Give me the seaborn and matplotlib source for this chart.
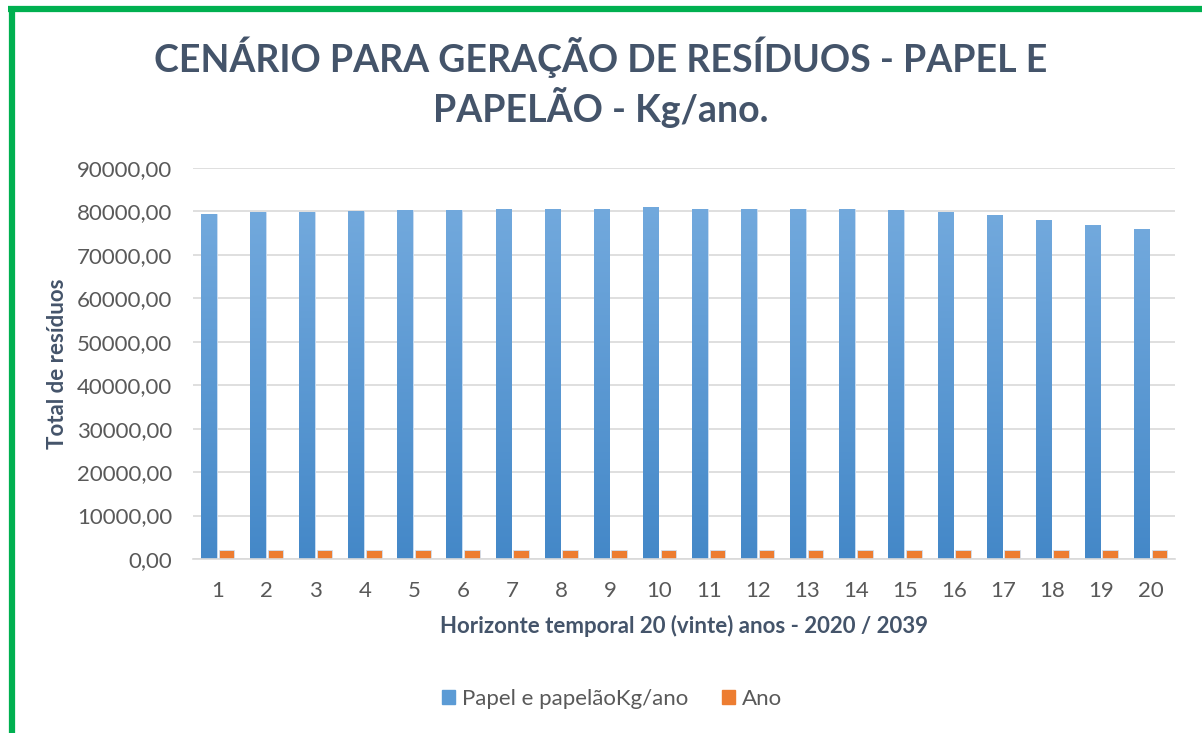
import numpy as np
import pandas as pd
import matplotlib
matplotlib.use('Agg')
import matplotlib.pyplot as plt
from matplotlib.lines import Line2D
from matplotlib.colors import LinearSegmentedColormap
import seaborn as sns

# Dados
anos_idx = list(range(1, 21))
papel = [79420, 79810, 79800, 80110, 80340, 80340, 80640, 80640, 80640, 81030,
         80640, 80640, 80640, 80640, 80340, 79810, 79190, 77970, 76820, 75900]
ano = list(range(2020, 2040))
series = ['Papel e papelãoKg/ano', 'Ano']
cores = ['#5B9BD5', '#ED7D31']

df = pd.DataFrame({
    'idx': anos_idx * 2,
    'valor': papel + ano,
    'serie': [series[0]] * 20 + [series[1]] * 20,
})

sns.set_theme(style='white')
plt.rcParams['font.family'] = ['Lato', 'DejaVu Sans']

fig = plt.figure(figsize=(12.02, 7.33), dpi=100)
ax = fig.add_axes([0.1606, 0.2374, 0.817, 0.5334])

sns.barplot(data=df, x='idx', y='valor', hue='serie', palette=cores,
            width=0.72, gap=0.12, ax=ax, legend=False, saturation=1,
            edgecolor='#cfe0f3', linewidth=0.6)

# gradiente nas barras azuis
grad_cmap = LinearSegmentedColormap.from_list('azul', ['#4488c8', '#72a9dd'])
grad = np.linspace(0, 1, 256).reshape(-1, 1)
for bar in ax.containers[0]:
    x, w, h = bar.get_x(), bar.get_width(), bar.get_height()
    im = ax.imshow(grad, extent=[x, x + w, 0, h], origin='lower', aspect='auto',
                   cmap=grad_cmap, zorder=bar.get_zorder() + 0.1)
    im.set_clip_path(bar)

ax.set_xlim(-0.5, 19.5)
ax.set_ylim(0, 90000)
ax.set_yticks(np.arange(0, 90001, 10000))
ax.set_yticklabels([f'{v},00' for v in range(0, 90001, 10000)])
ax.yaxis.grid(True, color='#d9d9d9', linewidth=1.2)
ax.set_axisbelow(True)
for s in ['top', 'right', 'left']:
    ax.spines[s].set_visible(False)
ax.spines['bottom'].set_color('#d9d9d9')
ax.spines['bottom'].set_linewidth(1.2)
ax.tick_params(axis='both', colors='#595959', labelsize=16, length=0)
ax.tick_params(axis='x', pad=16)
ax.tick_params(axis='y', pad=15)

ax.set_xlabel('Horizonte temporal 20 (vinte) anos - 2020 / 2039',
              fontsize=16, fontweight='bold', color='#44546A', labelpad=10)
ax.set_ylabel('Total de resíduos', fontsize=16, fontweight='bold',
              color='#44546A', labelpad=6)

fig.text(0.5, 0.922, 'CENÁRIO PARA GERAÇÃO DE RESÍDUOS - PAPEL E',
         ha='center', va='center', fontsize=27, fontweight='bold', color='#44546A')
fig.text(0.5, 0.854, 'PAPELÃO - Kg/ano.',
         ha='center', va='center', fontsize=27, fontweight='bold', color='#44546A')

handles = [plt.Rectangle((0, 0), 1, 1, color=c) for c in cores]
fig.legend(handles, series, loc='center', bbox_to_anchor=(0.509, 0.047), ncol=2,
           frameon=False, fontsize=16, handlelength=0.6, handleheight=0.6,
           handletextpad=0.3, columnspacing=1.5, labelcolor='#595959')

# borda verde
fig.add_artist(Line2D([0.0065, 1.0], [0.9875, 0.9875], color='#00B050', linewidth=4.5,
                      solid_capstyle='butt', transform=fig.transFigure))
fig.add_artist(Line2D([0.0103, 0.0103], [0.0, 0.991], color='#00B050', linewidth=4.5,
                      solid_capstyle='butt', transform=fig.transFigure))

fig.savefig('out.png', dpi=100, facecolor='white')
